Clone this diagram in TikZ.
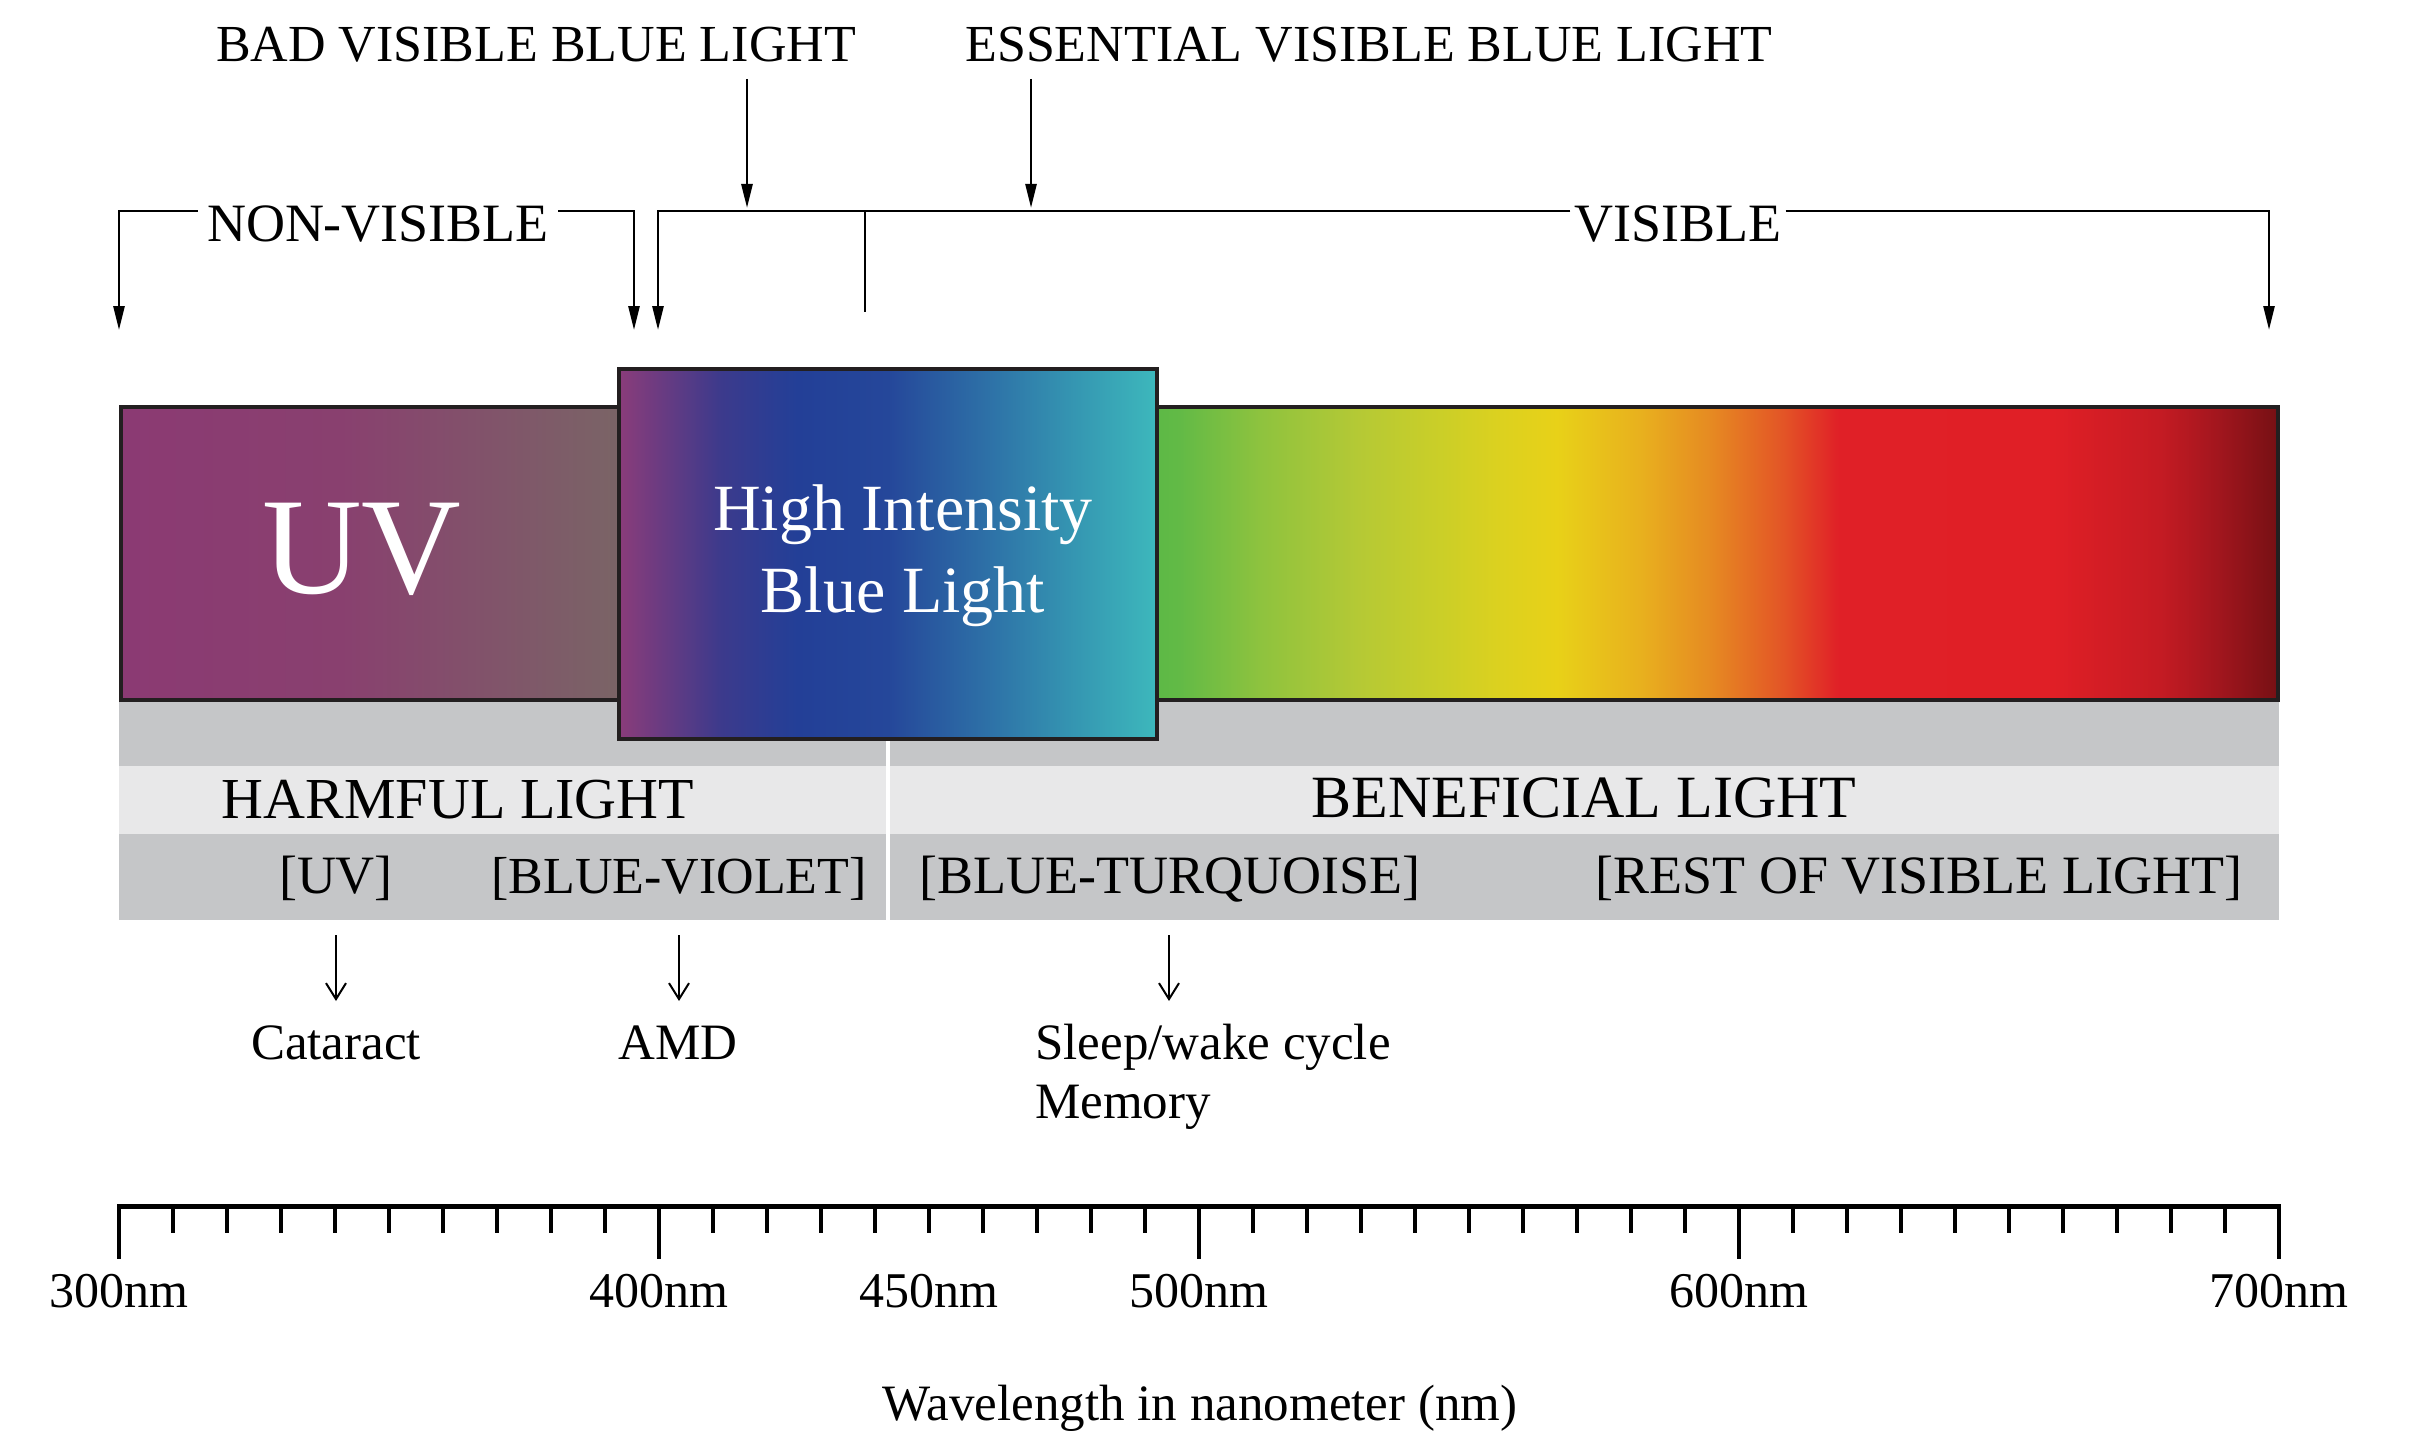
\documentclass[tikz,border=0pt]{standalone}
\usepackage{fontspec}
\setmainfont{Liberation Serif}
\usetikzlibrary{arrows.meta}
\definecolor{boxline}{HTML}{231F20}
\definecolor{bandgray}{HTML}{C5C6C8}
\definecolor{bandlight}{HTML}{E8E8E9}
\definecolor{uvA}{HTML}{8B3A73}
\definecolor{uvB}{HTML}{89406F}
\definecolor{uvC}{HTML}{7A6466}
\definecolor{bA}{HTML}{8A3C7A}
\definecolor{bB}{HTML}{3C3A8C}
\definecolor{bC}{HTML}{233F97}
\definecolor{bD}{HTML}{25479A}
\definecolor{bE}{HTML}{2E74A8}
\definecolor{bF}{HTML}{3597B2}
\definecolor{bG}{HTML}{3DB8BC}
\definecolor{sA}{HTML}{5DB946}
\definecolor{sB}{HTML}{62BA46}
\definecolor{sC}{HTML}{8FC33E}
\definecolor{sD}{HTML}{B5C935}
\definecolor{sE}{HTML}{CCCF27}
\definecolor{sF}{HTML}{DCD11F}
\definecolor{sG}{HTML}{E8D118}
\definecolor{sH}{HTML}{E8B01E}
\definecolor{sI}{HTML}{E68A22}
\definecolor{sJ}{HTML}{E35526}
\definecolor{sK}{HTML}{E02027}
\definecolor{sL}{HTML}{E01F26}
\definecolor{sM}{HTML}{C41B23}
\definecolor{sN}{HTML}{A3161E}
\definecolor{sO}{HTML}{761014}
\pgfdeclarehorizontalshading{uvshade}{100bp}{color(0bp)=(uvA); color(25bp)=(uvA); color(47bp)=(uvB); color(75bp)=(uvC); color(100bp)=(uvC)}
\pgfdeclarehorizontalshading{blueshade}{100bp}{color(0bp)=(bA); color(25bp)=(bA); color(34.5bp)=(bB); color(41.5bp)=(bC); color(50bp)=(bD); color(60bp)=(bE); color(67.5bp)=(bF); color(75bp)=(bG); color(100bp)=(bG)}
\pgfdeclarehorizontalshading{specshade}{100bp}{color(0bp)=(sA); color(25bp)=(sA); color(26bp)=(sB); color(29.7bp)=(sC); color(34bp)=(sD); color(37.85bp)=(sE); color(40.35bp)=(sF); color(42.85bp)=(sG); color(46.6bp)=(sH); color(49.7bp)=(sI); color(52.9bp)=(sJ); color(55.4bp)=(sK); color(65bp)=(sL); color(69.75bp)=(sM); color(72.25bp)=(sN); color(75bp)=(sO); color(100bp)=(sO)}
\begin{document}
\begin{tikzpicture}[x=1pt,y=-1pt,
  txt/.style={inner sep=0pt, anchor=base},
  toplab/.style={txt, font=\fontsize{52}{62}\selectfont},
  brlab/.style={txt, font=\fontsize{54}{64}\selectfont},
  bandhead/.style={txt, font=\fontsize{58}{68}\selectfont},
  bandlab/.style={txt, font=\fontsize{54}{64}\selectfont},
  effect/.style={txt, font=\fontsize{51}{60}\selectfont},
  axlab/.style={txt, font=\fontsize{50}{60}\selectfont},
  bline/.style={line width=2.6pt, draw=black},
  barrow/.style={bline, -{Triangle[length=24pt,width=11pt]}},
  sarrow/.style={line width=2pt, draw=black, -{Straight Barb[length=16pt,width=20pt,line width=2pt]}},
  axtick/.style={line width=4pt, draw=black},
]
\useasboundingbox (0,0) rectangle (2432,1447);

% ---- top labels and arrows
\node[toplab] (bad) at (536,62) {BAD VISIBLE BLUE LIGHT};
\node[toplab] (ess) at (1369,62) {ESSENTIAL VISIBLE BLUE LIGHT};
\coordinate (badS) at (747,79);
\coordinate (badE) at (747,208);
\coordinate (essS) at (1031,79);
\coordinate (essE) at (1031,208);
\draw[barrow] (badS) -- (badE);
\draw[barrow] (essS) -- (essE);

% ---- brackets
\coordinate (hl) at (0,211);
\node[brlab, inner xsep=9pt] (nv) at (378,242) {NON-VISIBLE};
\node[brlab, inner xsep=4pt] (vis) at (1678,242) {VISIBLE};
\coordinate (nvL) at (119,330);
\coordinate (nvR) at (634,330);
\coordinate (vL) at (658,330);
\coordinate (vR) at (2269,330);
\coordinate (vt1) at (865,211);
\coordinate (vt2) at (865,312);
\draw[barrow] (nv.west |- hl) -| (nvL);
\draw[barrow] (nv.east |- hl) -| (nvR);
\draw[barrow] (vis.west |- hl) -| (vL);
\draw[barrow] (vis.east |- hl) -| (vR);
\draw[bline] (vt1) -- (vt2);

% ---- bands
\fill[bandgray] (119,700) rectangle (2279,766);
\fill[bandlight] (119,766) rectangle (2279,834);
\fill[bandgray] (119,834) rectangle (2279,920);
\draw[white, line width=4pt] (888,735) -- (888,920);

% ---- spectrum bar
\fill[shading=uvshade] (121,407) rectangle (619,700);
\fill[shading=specshade] (1157,407) rectangle (2278,700);
\draw[boxline, line width=4pt] (121,407) rectangle (2278,700);
\node[draw=boxline, line width=4pt, shading=blueshade, minimum width=538pt, minimum height=370pt, inner sep=0pt] (hib) at (888,554) {};

\node[txt, text=white, font=\fontsize{138}{150}\selectfont] (uv) at (362,593) {UV};
\node[txt, text=white, font=\fontsize{66}{80}\selectfont] (hi1) at (903,530) {High Intensity};
\node[txt, text=white, font=\fontsize{66}{80}\selectfont] (hi2) at (903,612) {Blue Light};

% ---- band texts
\node[bandhead] (harm) at (458,818) {HARMFUL LIGHT};
\node[bandhead, font=\fontsize{60}{70}\selectfont] (bene) at (1584,817) {BENEFICIAL LIGHT};
\node[bandlab] (buv) at (336,893) {[UV]};
\node[bandlab, font=\fontsize{52}{62}\selectfont] (bbv) at (679,893) {[BLUE-VIOLET]};
\node[bandlab] (bbt) at (1170,893) {[BLUE-TURQUOISE]};
\node[bandlab] (brest) at (1919,893) {[REST OF VISIBLE LIGHT]};

% ---- effects
\coordinate (a1s) at (336,935); \coordinate (a1e) at (336,1001);
\coordinate (a2s) at (679,935); \coordinate (a2e) at (679,1001);
\coordinate (a3s) at (1169,935); \coordinate (a3e) at (1169,1001);
\draw[sarrow] (a1s) -- (a1e);
\draw[sarrow] (a2s) -- (a2e);
\draw[sarrow] (a3s) -- (a3e);
\node[effect] (cat) at (336,1059) {Cataract};
\node[effect] (amd) at (678,1059) {AMD};
\node[effect, anchor=base west] (sleep) at (1035,1059) {Sleep/wake cycle};
\node[effect, anchor=base west] (mem) at (1035,1118) {Memory};

% ---- axis
\foreach \k in {0,...,40}{\draw[axtick] ({119+54*\k},1206) -- ({119+54*\k},1233);}
\foreach \k in {0,10,20,30,40}{\draw[axtick] ({119+54*\k},1206) -- ({119+54*\k},1259);}
\coordinate (ax0) at (117,1206);
\coordinate (ax1) at (2281,1206);
\draw[line width=5pt] (ax0) -- (ax1);
\node[axlab] (l300) at (119,1307) {300nm};
\node[axlab] (l400) at (659,1307) {400nm};
\node[axlab] (l450) at (929,1307) {450nm};
\node[axlab] (l500) at (1199,1307) {500nm};
\node[axlab] (l600) at (1739,1307) {600nm};
\node[axlab] (l700) at (2279,1307) {700nm};
\node[txt, font=\fontsize{51}{60}\selectfont] (wl) at (1200,1420) {Wavelength in nanometer (nm)};
\end{tikzpicture}
\end{document}
